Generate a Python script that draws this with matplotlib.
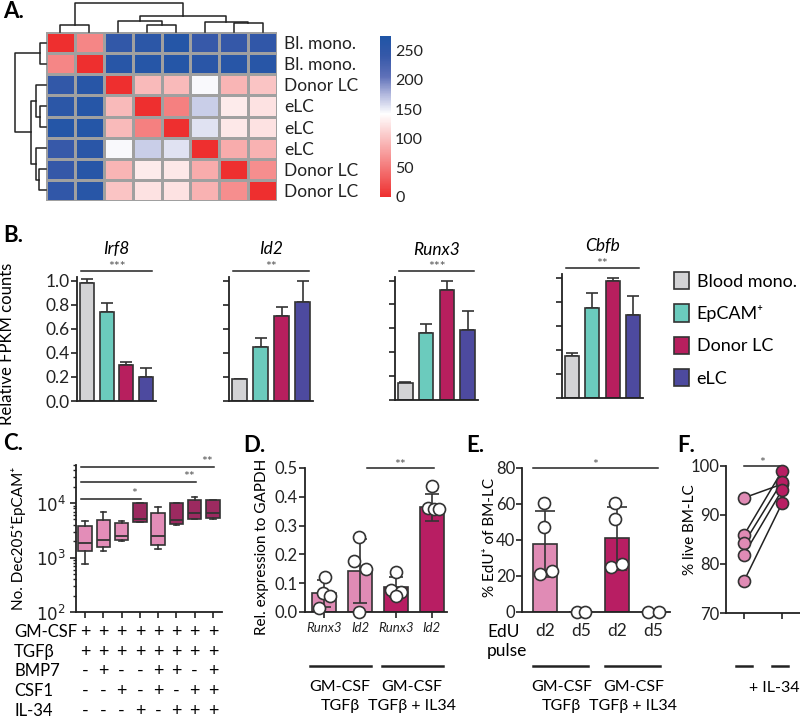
import numpy as np
import matplotlib
matplotlib.use('Agg')
import matplotlib.pyplot as plt
from matplotlib.colors import LinearSegmentedColormap
from matplotlib.patches import Patch
from matplotlib import transforms

plt.rcParams['font.family'] = ['Lato', 'DejaVu Sans']
plt.rcParams['axes.linewidth'] = 1.3
plt.rcParams['axes.edgecolor'] = '#222222'
plt.rcParams['xtick.major.width'] = 1.2
plt.rcParams['ytick.major.width'] = 1.2
plt.rcParams['xtick.color'] = '#222222'
plt.rcParams['ytick.color'] = '#222222'

# ---------------- data ----------------
# A. sample distance matrix
samples = ['Bl. mono.', 'Bl. mono.', 'Donor LC', 'eLC', 'eLC', 'eLC', 'Donor LC', 'Donor LC']
dist = np.array([
    [0, 60, 245, 255, 265, 240, 242, 248],
    [60, 0, 262, 264, 266, 258, 262, 262],
    [245, 262, 0, 95, 95, 145, 92, 102],
    [255, 264, 95, 0, 55, 165, 128, 122],
    [265, 266, 95, 55, 0, 155, 126, 122],
    [240, 258, 145, 165, 155, 0, 85, 90],
    [242, 262, 92, 128, 126, 85, 0, 65],
    [248, 262, 102, 122, 122, 90, 65, 0],
])
col_links = [(0, 1, 20), (3, 4, 20), (2, 9, 35), (6, 7, 27), (5, 11, 32), (10, 12, 50), (8, 13, 89)]
row_links = [(0, 1, 18), (3, 4, 18), (2, 9, 28), (6, 7, 20), (5, 11, 28), (10, 12, 43), (8, 13, 88)]
cbar_ticks = [0, 50, 100, 150, 200, 250]

# B. relative FPKM
genes = ['Irf8', 'Id2', 'Runx3', 'Cbfb']
cell_types = ['Blood mono.', 'EpCAM⁺', 'Donor LC', 'eLC']
irf8 = [0.98, 0.74, 0.30, 0.20]
irf8_err = [0.03, 0.075, 0.02, 0.07]
id2 = [0.18, 0.45, 0.71, 0.82]
id2_err = [0.005, 0.07, 0.07, 0.18]
runx3 = [0.146, 0.56, 0.92, 0.585]
runx3_err = [0.004, 0.08, 0.075, 0.16]
cbfb = [0.353, 0.744, 0.973, 0.69]
cbfb_err = [0.024, 0.132, 0.024, 0.154]
b_stars = ['***', '**', '***', '**']

# C. box plots (No. Dec205+EpCAM+)
c_q1 = [1300, 1550, 2060, 4400, 1730, 4150, 5100, 5300]
c_med = [1860, 2130, 2440, 5100, 2440, 4900, 6700, 6600]
c_q3 = [3800, 4900, 4260, 9900, 6670, 9900, 11300, 11300]
c_lo = [770, 1340, 2050, 4400, 1450, 4000, 5000, 5200]
c_hi = [4700, 6800, 4600, 10200, 8600, 10100, 13000, 11500]
cond_names = ['GM-CSF', 'TGFβ', 'BMP7', 'CSF1', 'IL-34']
gmcsf = [1, 1, 1, 1, 1, 1, 1, 1]
tgfb = [1, 1, 1, 1, 1, 1, 1, 1]
bmp7 = [0, 1, 0, 0, 1, 1, 0, 1]
csf1 = [0, 0, 1, 0, 1, 0, 1, 1]
il34 = [0, 0, 0, 1, 0, 1, 1, 1]
c_sig_end = [3, 6, 7]
c_sig_y = [11800, 24300, 45700]
c_sig_txt = ['*', '**', '**']

# D. qPCR
d_labels = ['Runx3', 'Id2', 'Runx3', 'Id2']
d_mean = [0.065, 0.143, 0.088, 0.363]
d_sd = [0.047, 0.112, 0.035, 0.048]
d_points = [[0.123, 0.065, 0.056, 0.013], [0.259, 0.177, 0.148, 0.0],
            [0.14, 0.075, 0.071, 0.057], [0.437, 0.36, 0.356, 0.356]]
d_jitter = [[0.02, -0.02, 0.17, -0.15], [-0.02, -0.17, 0.17, -0.02],
            [0.0, -0.13, 0.15, 0.0], [0.0, -0.11, 0.07, 0.21]]

# E. EdU
e_labels = ['d2', 'd5', 'd2', 'd5']
e_mean = [37.8, 0, 40.9, 0]
e_sd = [18.4, 0, 17.4, 0]
e_points = [[60.4, 47.4, 21.1, 23.0], [0, 0], [60.7, 51.7, 25.2, 26.7], [0, 0]]
e_jitter = [[-0.02, -0.02, -0.15, 0.18], [-0.12, 0.12], [-0.06, -0.06, -0.16, 0.15], [-0.14, 0.17]]

# F. viability
f_ctrl = [93.5, 85.9, 84.2, 81.9, 76.5]
f_il34 = [96.3, 99.0, 96.8, 95.1, 92.4]

# ---------------- colours ----------------
col_b = ['#D3D3D5', '#6BCBBD', '#B71F5E', '#4D4A9F']
pink = '#E08BB5'
magenta = '#B81E63'
box_light = '#E38DB8'
box_dark = '#9C2A60'
ink = '#222222'
star_col = '#555555'

W, H = 800, 719
fig = plt.figure(figsize=(8, 7.19), dpi=100)


def fx(x):
    return x / W


def fy(y):
    return 1 - y / H


def box(x0, y0, x1, y1):
    return fig.add_axes([x0 / W, 1 - y1 / H, (x1 - x0) / W, (y1 - y0) / H])


def letter(x, y, s):
    fig.text(fx(x), fy(y), s, fontsize=16, fontweight='bold', va='center', ha='left')


def style(ax):
    for s in ['top', 'right']:
        ax.spines[s].set_visible(False)
    ax.tick_params(direction='out', length=4)


def draw_dendro(ax, links, n, vertical=False):
    pos = {i: i + 0.5 for i in range(n)}
    hgt = {i: 0 for i in range(n)}
    for k, (a, b, h) in enumerate(links):
        xs = [pos[a], pos[a], pos[b], pos[b]]
        ys = [hgt[a], h, h, hgt[b]]
        if vertical:
            ax.plot(ys, xs, color=ink, lw=1.1, clip_on=False)
        else:
            ax.plot(xs, ys, color=ink, lw=1.1, clip_on=False)
        pos[n + k] = (pos[a] + pos[b]) / 2
        hgt[n + k] = h
    ax.axis('off')


# ---------------- A ----------------
cmap = LinearSegmentedColormap.from_list('rwb', [
    (0.0, '#EE2F2F'), (0.516, '#FFFFFF'), (0.64, '#B0B6DD'),
    (0.75, '#5E70B8'), (0.88, '#3558A8'), (1.0, '#1F55A6')])
axh = box(46, 32, 277, 201)
mesh = axh.pcolormesh(dist, cmap=cmap, vmin=0, vmax=275, edgecolors='#A0A0A0', linewidth=1)
axh.set_xlim(0, 8)
axh.set_ylim(8, 0)
axh.set_xticks([])
axh.set_yticks(np.arange(8) + 0.5, samples)
axh.yaxis.tick_right()
axh.tick_params(length=0, labelsize=12.5, pad=5)
for s in axh.spines.values():
    s.set_visible(False)

axt = box(46, 3, 277, 32)
draw_dendro(axt, col_links, 8)
axt.set_xlim(0, 8)
axt.set_ylim(0, 89)

axl = box(15, 32, 46, 201)
draw_dendro(axl, row_links, 8, vertical=True)
axl.set_xlim(89, 0)
axl.set_ylim(8, 0)

cax = box(380, 36, 391, 197)
cb = fig.colorbar(mesh, cax=cax, ticks=cbar_ticks)
cb.outline.set_visible(False)
cax.tick_params(length=0, labelsize=11.5, pad=3)
letter(3, 12, 'A.')

# ---------------- B ----------------
b_vals = [irf8, id2, runx3, cbfb]
b_errs = [irf8_err, id2_err, runx3_err, cbfb_err]
b_boxes = [(77, 277, 156, 401), (229, 277, 313, 401), (395, 277, 478, 400), (562, 274, 643, 398)]
for i, g in enumerate(genes):
    ax = box(*b_boxes[i])
    x = np.arange(4)
    ax.bar(x, b_vals[i], width=0.7, color=col_b, edgecolor='#333333', linewidth=1.2, zorder=2)
    ax.errorbar(x, b_vals[i], yerr=[np.zeros(4), b_errs[i]], fmt='none', ecolor='#333333',
                elinewidth=1.2, capsize=4, capthick=1.2, zorder=1)
    ax.set_xlim(-0.5, 3.5)
    ax.set_ylim(0, 1.03)
    ax.set_yticks([0, 0.2, 0.4, 0.6, 0.8, 1.0])
    ax.set_xticks([])
    style(ax)
    if i == 0:
        ax.set_yticklabels(['0.0', '0.2', '0.4', '0.6', '0.8', '1.0'], fontsize=12.5)
        ax.tick_params(axis='y', pad=1)
    else:
        ax.set_yticklabels([])
    ax.text(1.5, 1.26, g, style='italic', fontsize=12.5, ha='center', va='center')
    ax.plot([-0.3, 3.3], [1.08, 1.08], color=ink, lw=1.1, clip_on=False)
    ax.text(1.5, 1.065, b_stars[i], fontsize=10, color=star_col, ha='center', va='bottom')
fig.text(fx(7), fy(344), 'Relative FPKM counts', rotation=90, fontsize=12, ha='center', va='center')
fig.legend(handles=[Patch(facecolor=c, edgecolor='#333333', linewidth=1.2, label=l)
                    for c, l in zip(col_b, cell_types)],
           loc='upper left', bbox_to_anchor=(fx(674), fy(272)), frameon=False, fontsize=13,
           handlelength=0.85, handleheight=1.1, labelspacing=0.8, handletextpad=0.4,
           borderaxespad=0, borderpad=0)
letter(3, 236, 'B.')

# ---------------- C ----------------
axc = box(76, 465, 222, 612)
stats = [dict(med=c_med[i], q1=c_q1[i], q3=c_q3[i], whislo=c_lo[i], whishi=c_hi[i], fliers=[])
         for i in range(8)]
bp = axc.bxp(stats, positions=np.arange(8), widths=0.75, patch_artist=True, capwidths=0.3,
             boxprops=dict(edgecolor='#333333', linewidth=1.2),
             medianprops=dict(color='#333333', linewidth=1.3),
             whiskerprops=dict(color='#333333', linewidth=1.2),
             capprops=dict(color='#333333', linewidth=1.2))
for patch, flag in zip(bp['boxes'], il34):
    patch.set_facecolor(box_dark if flag else box_light)
axc.set_yscale('log')
axc.set_ylim(100, 50000)
axc.set_xlim(-0.5, 7.5)
axc.set_xticks(np.arange(8))
axc.set_xticklabels([])
axc.set_yticks([100, 1000, 10000], ['$10^2$', '$10^3$', '$10^4$'], fontsize=12)
style(axc)
axc.tick_params(axis='y', which='minor', length=2.5, width=1)
for e, yv, t in zip(c_sig_end, c_sig_y, c_sig_txt):
    axc.plot([-0.2, e + 0.05], [yv, yv], color=ink, lw=1.1, clip_on=False)
    axc.text(e - 0.3, yv * 0.97, t, fontsize=10, color=star_col, ha='center', va='bottom', clip_on=False)
fig.text(fx(19), fy(538), 'No. Dec205⁺EpCAM⁺', rotation=90, fontsize=11, ha='center', va='center')
tr_c = transforms.blended_transform_factory(axc.transData, fig.transFigure)
row_y = [632, 652, 671, 691, 711]
for name, flags, yy in zip(cond_names, [gmcsf, tgfb, bmp7, csf1, il34], row_y):
    fig.text(fx(14), fy(yy), name, fontsize=12, va='center', ha='left')
    for i, f in enumerate(flags):
        axc.text(i, fy(yy), '+' if f else '-', transform=tr_c, fontsize=13,
                 ha='center', va='center')
letter(3, 443, 'C.')

# ---------------- D ----------------
axd = box(305, 468, 447, 612)
xd = np.arange(4)
d_cols = [pink, pink, magenta, magenta]
axd.bar(xd, d_mean, width=0.67, color=d_cols, edgecolor='#333333', linewidth=1.2, zorder=1)
axd.errorbar(xd, d_mean, yerr=d_sd, fmt='none', ecolor='#333333', elinewidth=1.2,
             capsize=5, capthick=1.2, zorder=2)
for i in range(4):
    axd.scatter(xd[i] + np.array(d_jitter[i]), d_points[i], s=75, facecolor='white',
                edgecolor='#333333', linewidth=1.2, zorder=3, clip_on=False)
axd.set_xlim(-0.53, 3.42)
axd.set_ylim(0, 0.5)
axd.set_yticks([0, 0.1, 0.2, 0.3, 0.4, 0.5], ['0.0', '0.1', '0.2', '0.3', '0.4', '0.5'], fontsize=12)
axd.set_xticks(xd, d_labels, style='italic', fontsize=9.5)
style(axd)
axd.tick_params(axis='y', pad=1)
axd.plot([1.2, 3.05], [0.5, 0.5], color=ink, lw=1.1, clip_on=False)
axd.text(2.1, 0.49, '**', fontsize=10, color=star_col, ha='center', va='bottom')
fig.text(fx(262), fy(547), 'Rel. expression to GAPDH', rotation=90, fontsize=11, ha='center', va='center')
tr_d = transforms.blended_transform_factory(axd.transData, fig.transFigure)
for (a, b), l2 in zip([(0, 1), (2, 3)], ['TGFβ', 'TGFβ + IL34']):
    axd.plot([a - 0.4, b + 0.3], [fy(666), fy(666)], transform=tr_d, color=ink, lw=1.8, clip_on=False)
    axd.text((a + b) / 2 - 0.05, fy(687), 'GM-CSF', transform=tr_d, fontsize=11.5, ha='center', va='center')
    axd.text((a + b) / 2 - 0.05, fy(706), l2, transform=tr_d, fontsize=11.5, ha='center', va='center')
letter(243, 445, 'D.')

# ---------------- E ----------------
axe = box(522, 468, 670, 612)
xe = np.arange(4)
axe.bar(xe, e_mean, width=0.67, color=d_cols, edgecolor='#333333', linewidth=1.2, zorder=1)
axe.errorbar(xe, e_mean, yerr=e_sd, fmt='none', ecolor='#333333', elinewidth=1.2,
             capsize=7, capthick=1.2, zorder=2)
for i in range(4):
    axe.scatter(xe[i] + np.array(e_jitter[i]), e_points[i], s=75, facecolor='white',
                edgecolor='#333333', linewidth=1.2, zorder=3, clip_on=False)
axe.set_xlim(-0.64, 3.47)
axe.set_ylim(0, 80)
axe.set_yticks([0, 20, 40, 60, 80])
axe.tick_params(axis='y', labelsize=12, pad=1)
axe.set_xticks(xe, e_labels, fontsize=12.5)
style(axe)
axe.tick_params(axis='x', length=0, pad=8)
axe.plot([-0.33, 3.14], [80, 80], color=ink, lw=1.1, clip_on=False)
axe.text(1.4, 78.5, '*', fontsize=10, color=star_col, ha='center', va='bottom')
fig.text(fx(487), fy(632), 'EdU', fontsize=12.5, ha='left', va='center')
fig.text(fx(487), fy(651), 'pulse', fontsize=12.5, ha='left', va='center')
fig.text(fx(490), fy(537), '% EdU⁺ of BM-LC', rotation=90, fontsize=11, ha='center', va='center')
tr_e = transforms.blended_transform_factory(axe.transData, fig.transFigure)
for (a, b), l2 in zip([(0, 1), (2, 3)], ['TGFβ', 'TGFβ + IL34']):
    axe.plot([a - 0.33, b + 0.2], [fy(666), fy(666)], transform=tr_e, color=ink, lw=1.8, clip_on=False)
    axe.text((a + b) / 2 - 0.05, fy(687), 'GM-CSF', transform=tr_e, fontsize=11.5, ha='center', va='center')
    axe.text((a + b) / 2 - 0.05, fy(706), l2, transform=tr_e, fontsize=11.5, ha='center', va='center')
letter(466, 445, 'E.')

# ---------------- F ----------------
axf = box(726, 466, 800, 613)
for a, b in zip(f_ctrl, f_il34):
    axf.plot([0, 1], [a, b], color=ink, lw=1.1, zorder=1)
axf.scatter(np.zeros(len(f_ctrl)), f_ctrl, s=75, facecolor=pink, edgecolor='#333333', linewidth=1.2, zorder=3)
axf.scatter(np.ones(len(f_il34)), f_il34, s=75, facecolor=magenta, edgecolor='#333333', linewidth=1.2,
            zorder=3, clip_on=False)
axf.set_xlim(-0.47, 1.47)
axf.set_ylim(70, 100)
axf.set_yticks([70, 80, 90, 100])
axf.tick_params(axis='y', labelsize=12, pad=1)
axf.set_xticks([0, 1], ['', ''])
style(axf)
axf.plot([0, 0.95], [100, 100], color=ink, lw=1.1, clip_on=False)
axf.text(0.47, 99.4, '*', fontsize=10, color=star_col, ha='center', va='bottom')
tr_f = transforms.blended_transform_factory(axf.transData, fig.transFigure)
for xx in [0, 0.95]:
    axf.plot([xx - 0.21, xx + 0.21], [fy(666), fy(666)], transform=tr_f, color=ink, lw=1.8, clip_on=False)
axf.text(0.8, fy(688), '+ IL-34', transform=tr_f, fontsize=11.5, ha='center', va='center')
fig.text(fx(690), fy(530), '% live BM-LC', rotation=90, fontsize=11, ha='center', va='center')
letter(677, 445, 'F.')

fig.savefig('out.png', dpi=100)
